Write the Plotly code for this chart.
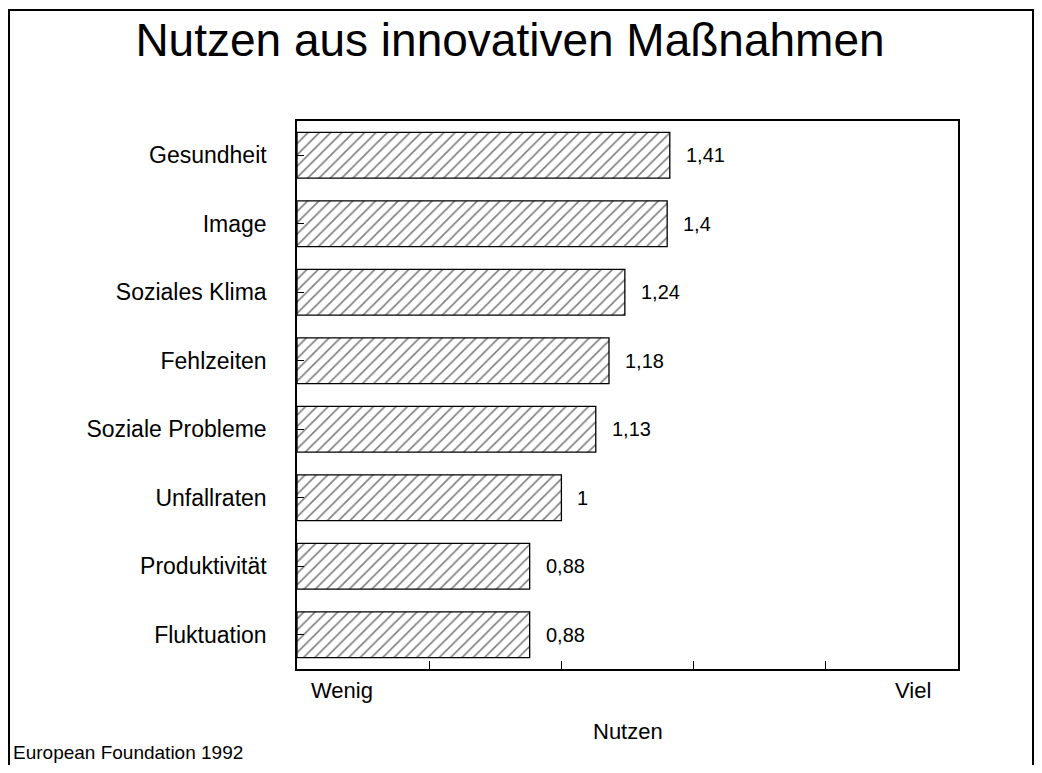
import plotly.graph_objects as go

categories = ["Gesundheit", "Image", "Soziales Klima", "Fehlzeiten",
              "Soziale Probleme", "Unfallraten", "Produktivität", "Fluktuation"]
values = [1.41, 1.4, 1.24, 1.18, 1.13, 1.0, 0.88, 0.88]
value_labels = ["1,41", "1,4", "1,24", "1,18", "1,13", "1", "0,88", "0,88"]
x_tickvals = [0, 0.5, 1, 1.5, 2, 2.5]

FONT = "Liberation Sans, Arial, sans-serif"

# page body margin offset (reference coords -> figure coords)
OFF = 8
W, H = 1042 - 2 * OFF, 773 - 2 * OFF
L, T = 297 - OFF, 121 - OFF
R = W - (958 - OFF)
B = H - (669 - OFF)
pw, ph = W - L - R, H - T - B


def px(x):
    return (x - OFF - L) / pw


def py(y):
    return (H - B - (y - OFF)) / ph


fig = go.Figure()
fig.add_trace(go.Bar(
    y=categories, x=values, orientation="h", width=0.67,
    marker=dict(color="white", line=dict(color="black", width=1.3),
                pattern=dict(shape="/", fgcolor="black", bgcolor="white",
                             size=8, solidity=0.2)),
    hoverinfo="skip", showlegend=False,
))

for c, v, t in zip(categories, values, value_labels):
    fig.add_annotation(x=v, y=c, text=t, showarrow=False, xanchor="left",
                       yanchor="middle", xshift=14,
                       font=dict(size=20, color="black", family=FONT))

fig.add_shape(type="rect", xref="paper", yref="paper",
              x0=px(OFF + 1), x1=px(W + OFF - 1), y0=py(10), y1=py(800),
              line=dict(color="black", width=2), layer="above")

fig.add_annotation(xref="x", yref="paper", x=0.17, y=py(690), text="Wenig",
                   showarrow=False, yanchor="middle",
                   font=dict(size=22, color="black", family=FONT))
fig.add_annotation(xref="x", yref="paper", x=2.33, y=py(690), text="Viel",
                   showarrow=False, yanchor="middle",
                   font=dict(size=22, color="black", family=FONT))
fig.add_annotation(xref="paper", yref="paper", x=0.5, y=py(731), text="Nutzen",
                   showarrow=False, xanchor="center", yanchor="middle",
                   font=dict(size=22, color="black", family=FONT))
fig.add_annotation(xref="paper", yref="paper", x=px(11), y=py(752),
                   text="European Foundation 1992", showarrow=False,
                   xanchor="left", yanchor="middle",
                   font=dict(size=19, color="black", family=FONT))

fig.update_layout(
    width=W, height=H,
    margin=dict(l=L, r=R, t=T, b=B, autoexpand=False),
    paper_bgcolor="white", plot_bgcolor="white",
    separators=",.",
    title=dict(text="Nutzen aus innovativen Maßnahmen", x=(510 - OFF) / W,
               xanchor="center", y=1 - (40 - OFF) / H, yanchor="middle",
               font=dict(size=46, color="black", family=FONT)),
    font=dict(family=FONT, color="black", size=22),
)
fig.update_xaxes(range=[0, 2.5], tickvals=x_tickvals, showticklabels=False,
                 ticks="inside", ticklen=8, tickcolor="black", tickwidth=1.3,
                 showline=True, linecolor="black", linewidth=1.5, mirror=True,
                 showgrid=False, zeroline=False, fixedrange=True)
fig.update_yaxes(categoryorder="array", categoryarray=categories,
                 range=[7.5, -0.5], ticks="inside", ticklen=7, tickcolor="black",
                 tickwidth=1.3, showline=True, linecolor="black", linewidth=1.5,
                 mirror=True, showgrid=False, zeroline=False, ticklabelstandoff=24,
                 tickfont=dict(size=23, color="black", family=FONT))

fig.write_html("out.html")
